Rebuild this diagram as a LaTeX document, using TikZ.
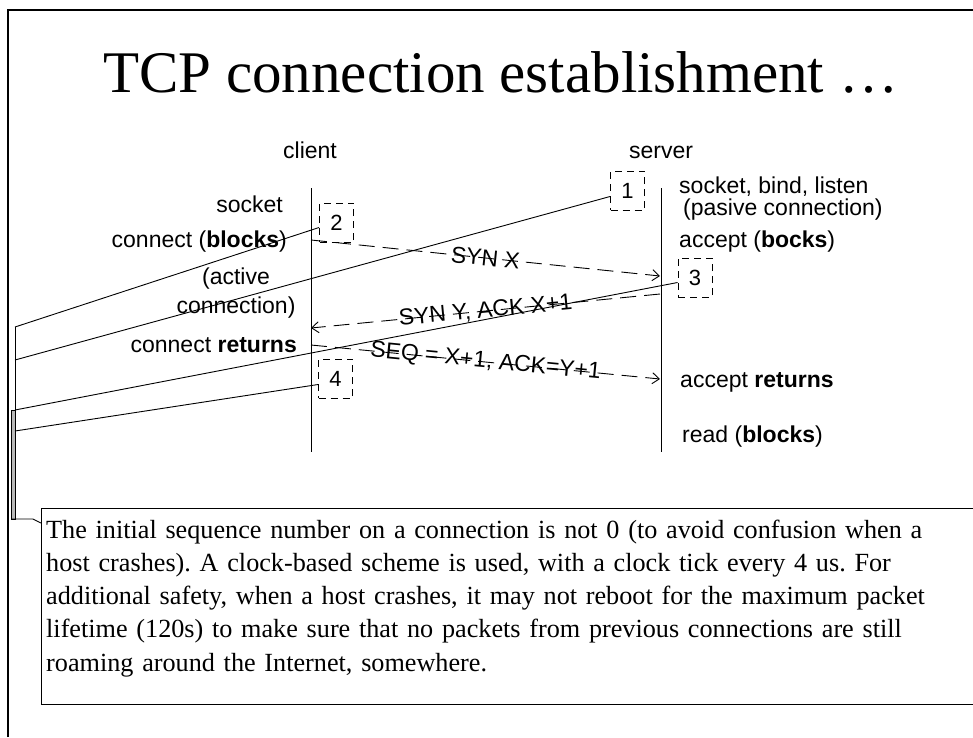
\documentclass[tikz,border=0pt]{standalone}
\usepackage{fontspec}
\setmainfont{Liberation Serif}
\newfontfamily\arial{Liberation Sans}
\usetikzlibrary{arrows.meta}
\frenchspacing

\begin{document}
\begin{tikzpicture}[x=1pt,y=-1pt,
  lbl/.style={font=\arial\fontsize{23}{27}\selectfont, inner sep=0pt},
  numbox/.style={draw, dash pattern=on 7pt off 5pt, line width=0.9pt,
    minimum width=34pt, minimum height=39pt, inner sep=0pt,
    font=\arial\fontsize{22}{26}\selectfont},
  lifeline/.style={line width=1pt},
  msg/.style={line width=0.9pt, dash pattern=on 16pt off 8pt,
    -{Straight Barb[length=7pt,width=11pt]}},
  msglbl/.style={lbl, sloped, midway},
  leader/.style={line width=0.9pt},
  notebox/.style={inner sep=0pt, anchor=north west},
  notetext/.style={inner sep=0pt, anchor=north west, align=left,
    text width=910pt, font=\fontsize{26.2}{33.1}\selectfont},
]
\useasboundingbox (0,0) rectangle (973,737);

% slide frame
\draw[line width=1.5pt] (8,737) -- (8,10) -- (973,10);

% title
\node[inner sep=0pt, anchor=base west, font=\fontsize{59}{70}\selectfont]
  (title) at (103,92) {TCP connection establishment \dots};

% lifelines
\coordinate (ctop) at (311,188);
\coordinate (cbot) at (311,452);
\coordinate (stop) at (661,188);
\coordinate (sbot) at (661,452);
\draw[lifeline] (ctop) -- (cbot);
\draw[lifeline] (stop) -- (sbot);

\node[lbl, anchor=base] (client) at (310,158) {client};
\node[lbl, anchor=base] (server) at (661,158) {server};

% client side labels
\node[lbl, anchor=base east] (csock) at (283,212) {socket};
\node[lbl, anchor=base east] (cconn) at (287,247) {connect (\textbf{blocks})};
\node[lbl, anchor=north, align=center, font=\arial\fontsize{23}{29}\selectfont]
  (cact) at (236,267.5) {(active\\connection)};
\node[lbl, anchor=base east] (cret) at (297,352) {connect \textbf{returns}};

% server side labels
\node[lbl, anchor=base west] (ssock) at (679,193) {socket, bind, listen};
\node[lbl, anchor=base west] (spas) at (683,215) {(pasive connection)};
\node[lbl, anchor=base west] (sacc) at (679,247) {accept (\textbf{bocks})};
\node[lbl, anchor=base west] (sret) at (680,387) {accept \textbf{returns}};
\node[lbl, anchor=base west] (sread) at (682,442) {read (\textbf{blocks})};

% numbered markers
\node[numbox] (b1) at (627.5,190.5) {1};
\node[numbox] (b2) at (336.5,222.5) {2};
\node[numbox] (b3) at (695,277.5) {3};
\node[numbox] (b4) at (335.5,378.5) {4};

% segments
\coordinate (m1a) at (311,240);
\coordinate (m1b) at (660,276);
\coordinate (m2a) at (660,294);
\coordinate (m2b) at (311,328);
\coordinate (m3a) at (311,345);
\coordinate (m3b) at (660,379);
\draw[msg] (m1a) -- node[msglbl] (l1) {SYN X} (m1b);
\draw[msg] (m2a) -- node[msglbl] (l2) {SYN Y, ACK X+1} (m2b);
\draw[msg] (m3a) -- node[msglbl] (l3) {SEQ = X+1, ACK=Y+1} (m3b);

% callout note; its right side lies past the edge of the page
\node[notebox, minimum width=1000pt, minimum height=196pt] (note) at (41,508) {};
\draw[line width=1pt] (note.north east) -- (note.north west)
  -- (note.south west) -- (note.south east);
\node[notetext] (notetxt) at ([xshift=5pt,yshift=-12pt]note.north west)
  {The initial sequence number on a connection is not 0 (to avoid confusion when a\\
   host crashes). A clock-based scheme is used, with a clock tick every 4 us. For\\
   additional safety, when a host crashes, it may not reboot for the maximum packet\\
   lifetime (120s) to make sure that no packets from previous connections are still\\
   roaming around the Internet, somewhere.};

% callout leaders
\coordinate (k2) at (15,327);
\coordinate (k1) at (15,360);
\coordinate (k3) at (15,410);
\coordinate (k4) at (15,431);
\coordinate (kbot) at (15,519);
\coordinate (kcorner) at (33,519);
\coordinate (ktip) at ([yshift=-15pt]note.north west);
\draw[leader] (k2) -- (k3);
\draw[line width=0.8pt, fill=gray!55] (11,410) rectangle (15,519);
\draw[leader] (11,519) -- (kcorner) -- (ktip);
\draw[leader] ([yshift=-5pt]b2.west) -- (k2);
\draw[leader] ([yshift=-6pt]b1.west) -- (k1);
\draw[leader] ([yshift=-5pt]b3.west) -- (k3);
\draw[leader] ([yshift=-6pt]b4.west) -- (k4);
\end{tikzpicture}
\end{document}
